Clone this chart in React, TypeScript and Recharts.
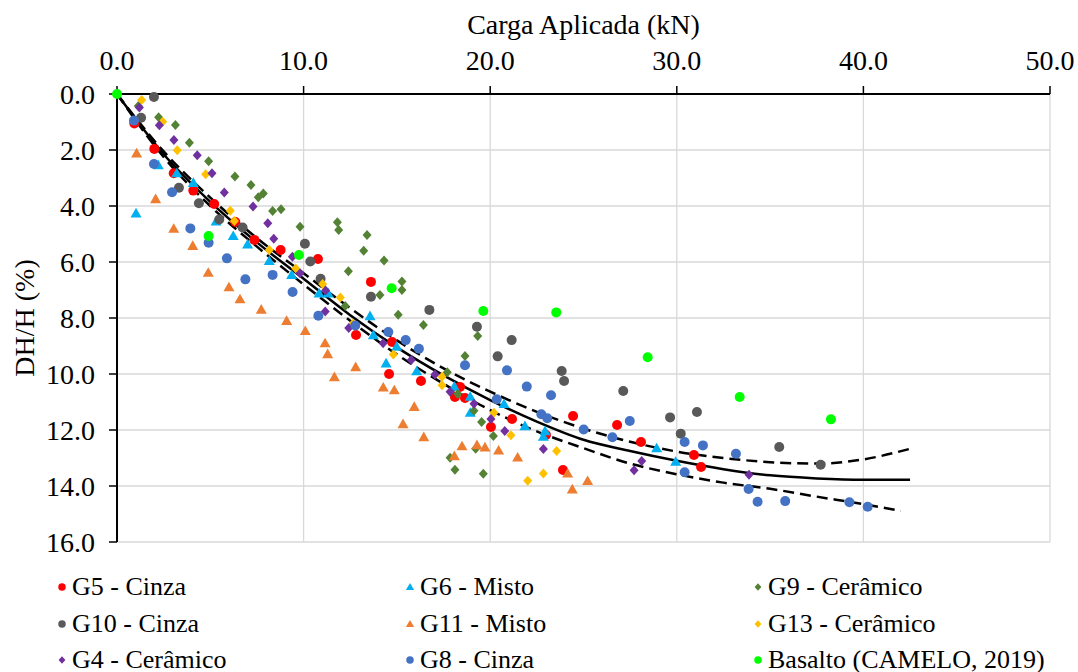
import { ComposedChart, Scatter, Line, XAxis, YAxis, CartesianGrid } from "recharts";

const FONT = "Liberation Serif, Tinos, DejaVu Serif, serif";

const xTicks = [0, 10, 20, 30, 40, 50];
const yTicks = [0, 2, 4, 6, 8, 10, 12, 14, 16];

type Pt = { x: number; y: number };
const pts = (arr: number[][]): Pt[] => arr.map(([x, y]) => ({ x, y }));

// values (load kN, DH/H %)
const g5 = pts([
  [0.93, 1.05], [2.0, 1.96], [3.04, 2.83], [4.09, 3.45], [5.21, 3.93], [6.34, 4.57], [7.36, 5.21],
  [8.77, 5.57], [10.77, 5.89], [13.61, 6.71], [12.81, 8.61], [14.74, 8.86], [14.58, 10.0],
  [16.29, 10.25], [18.38, 10.46], [18.11, 10.82], [18.65, 10.86], [20.04, 11.89], [21.17, 11.61],
  [22.99, 12.18], [24.44, 11.5], [23.9, 13.43], [26.8, 11.82], [28.08, 12.43], [30.92, 12.89], [31.3, 13.32],
]);
const g6 = pts([
  [1.02, 4.26], [2.21, 2.54], [3.2, 2.83], [4.09, 3.17], [5.31, 4.55], [6.23, 5.07], [7.0, 5.37],
  [8.16, 5.96], [9.36, 6.46], [10.83, 7.12], [11.32, 7.12], [13.56, 7.93], [13.74, 8.61], [14.99, 9.02],
  [14.42, 9.62], [16.06, 9.9], [18.08, 10.45], [18.93, 10.81], [18.93, 11.38], [20.74, 11.07],
  [21.86, 11.86], [22.94, 12.04], [22.85, 12.24], [28.92, 12.65], [29.94, 13.13],
]);
const g9 = pts([
  [1.14, 0.43], [2.23, 0.83], [3.13, 1.11], [3.88, 1.74], [4.91, 2.4], [6.32, 2.95], [7.18, 3.25],
  [7.57, 3.69], [7.84, 3.55], [8.34, 4.18], [8.79, 4.12], [9.81, 4.74], [11.81, 4.58], [11.88, 4.86],
  [13.4, 5.04], [13.22, 5.6], [14.31, 5.95], [12.4, 6.33], [15.27, 6.7], [15.27, 7.0], [14.09, 7.18],
  [12.23, 7.57], [15.07, 7.88], [16.42, 8.25], [17.7, 9.94], [19.33, 8.64], [18.65, 9.36], [18.26, 10.71],
  [19.13, 11.31], [19.54, 11.71], [20.17, 12.21], [19.22, 12.67], [17.85, 12.99], [18.11, 13.42], [19.63, 13.56],
]);
const g10 = pts([
  [1.98, 0.11], [1.29, 0.85], [3.32, 3.35], [4.39, 3.9], [5.48, 4.48], [6.73, 4.77], [10.07, 5.35],
  [10.36, 5.98], [10.91, 6.6], [13.61, 7.24], [16.74, 7.71], [19.29, 8.31], [21.15, 8.79], [20.4, 9.37],
  [23.83, 9.89], [23.96, 10.25], [27.13, 10.61], [29.64, 11.55], [30.21, 12.13], [31.08, 11.36],
  [35.49, 12.61], [37.71, 13.24],
]);
const g11 = pts([
  [1.05, 2.12], [2.07, 3.75], [3.04, 4.81], [4.06, 5.42], [4.89, 6.38], [6.0, 6.9], [6.59, 7.33],
  [7.73, 7.7], [9.09, 8.1], [10.09, 8.46], [11.15, 8.9], [11.29, 9.29], [12.79, 9.75], [11.65, 10.11],
  [14.27, 10.48], [14.86, 10.58], [15.93, 11.17], [15.33, 11.79], [16.44, 12.25], [18.49, 12.58],
  [18.08, 12.93], [19.29, 12.54], [19.72, 12.62], [20.45, 12.73], [21.47, 12.98], [24.15, 13.55],
  [25.22, 13.82], [24.4, 14.12],
]);
const g13 = pts([
  [1.32, 0.21], [2.45, 0.99], [3.23, 2.01], [4.75, 2.87], [6.07, 4.17], [6.29, 4.54], [8.16, 5.57],
  [9.58, 6.23], [11.02, 6.79], [11.97, 7.27], [12.65, 8.2], [14.81, 9.3], [17.42, 10.1], [17.42, 10.4],
  [20.2, 11.38], [21.11, 12.19], [23.56, 12.75], [22.85, 13.55], [22.01, 13.81],
]);
const g4 = pts([
  [1.2, 0.48], [2.27, 1.12], [3.05, 1.64], [4.3, 2.19], [5.09, 2.83], [5.75, 3.52], [7.29, 4.02],
  [8.08, 4.62], [8.4, 5.17], [9.4, 5.81], [9.81, 6.4], [11.18, 7.02], [11.16, 7.77], [12.42, 8.36],
  [14.26, 8.9], [15.77, 9.5], [17.04, 10.02], [17.85, 10.63], [19.13, 11.06], [20.04, 11.61],
  [20.78, 12.04], [22.85, 12.68], [28.12, 13.11], [27.71, 13.44], [33.87, 13.6],
]);
const g8 = pts([
  [0.91, 0.95], [1.98, 2.5], [2.95, 3.51], [3.93, 4.8], [4.91, 5.31], [5.89, 5.87], [6.88, 6.62],
  [8.34, 6.46], [9.41, 7.07], [10.79, 7.92], [12.77, 8.27], [14.54, 8.5], [15.47, 8.79], [16.18, 9.1],
  [18.65, 9.69], [20.9, 9.87], [21.96, 10.45], [23.26, 10.76], [20.35, 10.9], [22.74, 11.44],
  [23.06, 11.58], [25.01, 11.98], [27.48, 11.68], [26.55, 12.26], [30.42, 12.43], [31.4, 12.55],
  [33.17, 12.85], [30.42, 13.51], [33.85, 14.11], [34.33, 14.56], [35.81, 14.54], [39.25, 14.58], [40.23, 14.74],
]);
const basalto = pts([
  [0, 0], [4.91, 5.07], [9.75, 5.75], [14.72, 6.94], [19.63, 7.75], [23.54, 7.8], [28.44, 9.4],
  [33.37, 10.82], [38.26, 11.62],
]);

// fitted curve and its two bounds
const fitMid = pts([
  [0, 0], [2.5, 2.15], [5, 3.85], [7.5, 5.3], [10, 6.6], [12.5, 7.9], [15, 9.05], [17.5, 10.05],
  [20, 10.93], [22.5, 11.7], [25, 12.35], [27.5, 12.75], [30, 13.1], [32.5, 13.4], [35, 13.62],
  [37.5, 13.73], [40, 13.78], [42.5, 13.78],
]);
const fitUpper = pts([
  [0, 0], [2.5, 2.05], [5, 3.7], [7.5, 5.15], [10, 6.4], [12.5, 7.65], [15, 8.8], [17.5, 9.8],
  [20, 10.63], [22.5, 11.35], [25, 11.95], [27.5, 12.42], [30, 12.77], [32.5, 13.0], [35, 13.15],
  [37.5, 13.2], [40, 13.05], [42.5, 12.67],
]);
const fitLower = pts([
  [0, 0], [2.5, 2.25], [5, 4.0], [7.5, 5.45], [10, 6.8], [12.5, 8.1], [15, 9.3], [17.5, 10.35],
  [20, 11.29], [22.5, 12.05], [25, 12.65], [27.5, 13.2], [30, 13.58], [32.5, 13.88], [35, 14.1],
  [37.5, 14.38], [40, 14.65], [42, 14.89],
]);

type Kind = "circle" | "triangle" | "diamond";

function Marker({ cx, cy, kind, color, s = 1 }: { cx: number; cy: number; kind: Kind; color: string; s?: number }) {
  if (kind === "circle") return <circle cx={cx} cy={cy} r={5 * s} fill={color} />;
  if (kind === "triangle") {
    const h = 5.5 * s;
    return <polygon points={`${cx},${cy - h} ${cx + h},${cy + h * 0.75} ${cx - h},${cy + h * 0.75}`} fill={color} />;
  }
  const w = 4.5 * s, h = 5 * s;
  return <polygon points={`${cx},${cy - h} ${cx + w},${cy} ${cx},${cy + h} ${cx - w},${cy}`} fill={color} />;
}

const series = [
  { name: "G5 - Cinza", data: g5, color: "#FF0000", kind: "circle" as Kind },
  { name: "G6 - Misto", data: g6, color: "#00B0F0", kind: "triangle" as Kind },
  { name: "G9 - Cerâmico", data: g9, color: "#548235", kind: "diamond" as Kind },
  { name: "G10 - Cinza", data: g10, color: "#595959", kind: "circle" as Kind },
  { name: "G11 - Misto", data: g11, color: "#ED7D31", kind: "triangle" as Kind },
  { name: "G13 - Cerâmico", data: g13, color: "#FFC000", kind: "diamond" as Kind },
  { name: "G4 - Cerâmico", data: g4, color: "#7030A0", kind: "diamond" as Kind },
  { name: "G8 - Cinza", data: g8, color: "#4472C4", kind: "circle" as Kind },
  { name: "Basalto (CAMELO, 2019)", data: basalto, color: "#00FF00", kind: "circle" as Kind },
];

const fmt = (v: number) => v.toFixed(1);
const tickStyle = { fontSize: 28, fill: "#000", fontFamily: FONT };

export default function App() {
  const colX = [62, 410, 758];
  const rowY = [587, 624, 660];
  return (
    <div style={{ position: "absolute", left: 0, top: 0, width: 1078, height: 672, background: "#fff", fontFamily: FONT }}>
      <ComposedChart width={1078} height={672} margin={{ top: 34, right: 28, bottom: 130, left: 17 }} style={{ fontFamily: FONT }}>
        <CartesianGrid stroke="#d9d9d9" strokeWidth={1.3} />
        <XAxis
          type="number"
          dataKey="x"
          orientation="top"
          domain={[0, 50]}
          ticks={xTicks}
          height={60}
          tickFormatter={fmt}
          tick={tickStyle}
          tickSize={8}
          tickMargin={16}
          axisLine={{ stroke: "#000", strokeWidth: 2 }}
          tickLine={{ stroke: "#000", strokeWidth: 1.5 }}
          label={{ value: "Carga Aplicada (kN)", position: "top", offset: 0, style: { fontSize: 28, fill: "#000", fontFamily: FONT } }}
        />
        <YAxis
          type="number"
          dataKey="y"
          reversed
          domain={[0, 16]}
          ticks={yTicks}
          width={100}
          tickFormatter={fmt}
          tick={tickStyle}
          tickSize={8}
          tickMargin={14}
          axisLine={{ stroke: "#000", strokeWidth: 2 }}
          tickLine={{ stroke: "#000", strokeWidth: 1.5 }}
          label={{ value: "DH/H (%)", angle: -90, position: "insideLeft", offset: 7, style: { fontSize: 28, fill: "#000", fontFamily: FONT, textAnchor: "middle" } }}
        />
        {series.map(s => (
          <Scatter
            key={s.name}
            name={s.name}
            data={s.data}
            isAnimationActive={false}
            shape={(p: any) => <Marker cx={p.cx} cy={p.cy} kind={s.kind} color={s.color} />}
          />
        ))}
        <Line data={fitUpper} dataKey="y" type="monotone" stroke="#000" strokeWidth={2.5} strokeDasharray="11 6" dot={false} activeDot={false} isAnimationActive={false} />
        <Line data={fitLower} dataKey="y" type="monotone" stroke="#000" strokeWidth={2.5} strokeDasharray="11 6" dot={false} activeDot={false} isAnimationActive={false} />
        <Line data={fitMid} dataKey="y" type="monotone" stroke="#000" strokeWidth={2.5} dot={false} activeDot={false} isAnimationActive={false} />
      </ComposedChart>
      {series.map((s, i) => {
        const cx = colX[i % 3];
        const cy = rowY[Math.floor(i / 3)];
        return (
          <div key={s.name} style={{ position: "absolute", left: cx - 8, top: cy - 18, height: 36, display: "flex", alignItems: "center", whiteSpace: "nowrap" }}>
            <svg width={16} height={16}>
              <Marker cx={8} cy={8} kind={s.kind} color={s.color} s={0.75} />
            </svg>
            <span style={{ fontFamily: FONT, fontSize: 26, color: "#000", marginLeft: 2 }}>{s.name}</span>
          </div>
        );
      })}
    </div>
  );
}
